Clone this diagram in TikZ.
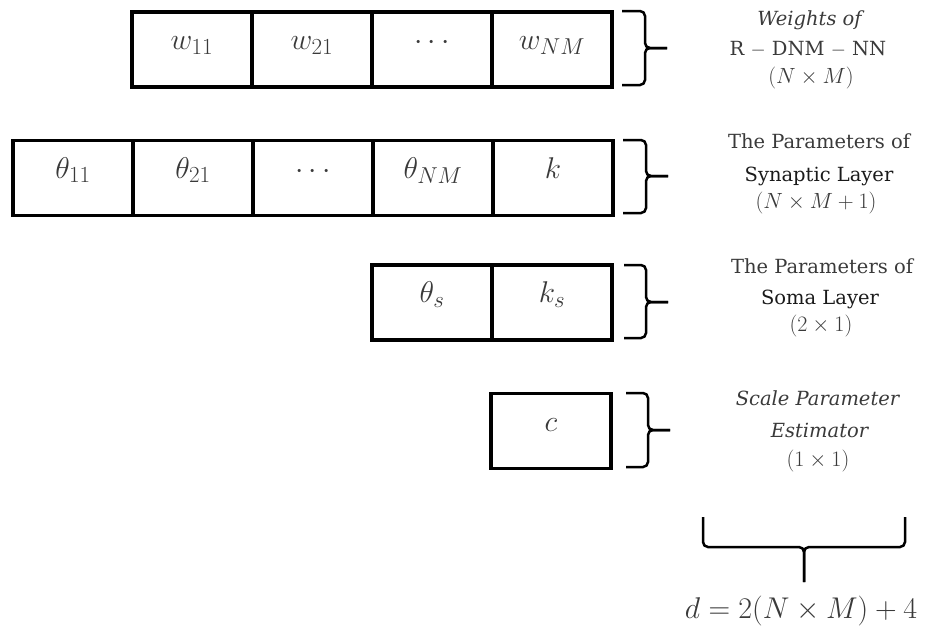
\RequirePackage{fix-cm}
\documentclass[tikz,border=0pt]{standalone}
\usepackage{fontspec}
\setmainfont{DejaVu Serif}
\newcommand\cellsub[1]{_{\mbox{\fontsize{23}{26}\selectfont$#1$}}}
\usetikzlibrary{calc}
\definecolor{txtgray}{HTML}{3A3A3A}
\definecolor{txtdark}{HTML}{1A1A1A}
\tikzset{
  cell/.style={draw=black, line width=3.2pt, minimum width=120pt, minimum height=75pt,
    inner sep=0pt, text height=12pt, text depth=12pt, text=txtgray,
    font=\fontsize{30}{33}\selectfont},
  brc/.style={draw=black, line width=2.5pt, rounded corners=5pt},
  lab/.style={anchor=base, text=txtgray, inner sep=0pt, font=\fontsize{19.5}{23}\selectfont},
  labm/.style={lab, font=\fontsize{22}{26}\selectfont},
  labdark/.style={lab, text=txtdark},
}
\begin{document}
\begin{tikzpicture}[x=1pt, y=-1pt]
\useasboundingbox (0,0) rectangle (935,627);

% Row 1: weights
\node[cell] (w11) at (192,49.5) {$w\cellsub{11}$};
\node[cell] (w21) at (312,49.5) {$w\cellsub{21}$};
\node[cell] (wdots) at (432,49.5) {$\cdots$};
\node[cell] (wNM) at (552,49.5) {$w\cellsub{NM}$};

% Row 2: synaptic layer
\node[cell] (t11) at (73,178) {$\theta\cellsub{11}$};
\node[cell] (t21) at (193,178) {$\theta\cellsub{21}$};
\node[cell] (tdots) at (313,178) {$\cdots$};
\node[cell] (tNM) at (433,178) {$\theta\cellsub{NM}$};
\node[cell] (k) at (553,178) {$k$};

% Row 3: soma layer
\node[cell] (ts) at (432,302.5) {$\theta\cellsub{s}$};
\node[cell] (ks) at (552,302.5) {$k\cellsub{s}$};

% Row 4: scale parameter
\node[cell] (c) at (551,431) {$c$};

% Braces
\draw[brc] (622,11) -- (645,11) -- (645,48) -- (667,48);
\draw[brc] (622,85) -- (645,85) -- (645,48) -- (667,48);

\draw[brc] (623,140) -- (646,140) -- (646,176) -- (668,176);
\draw[brc] (623,213) -- (646,213) -- (646,176) -- (668,176);

\draw[brc] (624,265) -- (646,265) -- (646,302) -- (668,302);
\draw[brc] (624,338) -- (646,338) -- (646,302) -- (668,302);

\draw[brc] (626,393) -- (648,393) -- (648,430) -- (670,430);
\draw[brc] (626,467) -- (648,467) -- (648,430) -- (670,430);

\draw[brc] (703,517) -- (703,547) -- (804,547) -- (804,582);
\draw[brc] (905,517) -- (905,547) -- (804,547) -- (804,582);

% Labels
\node[lab] (l1a) at (811,25) {\textit{Weights of}};
\node[lab] (l1b) at (808,55) {R $-$ DNM $-$ NN};
\node[labm] (l1c) at (811,83) {$(N\times M)$};

\node[lab] (l2a) at (819,148) {The Parameters of};
\node[labdark] (l2b) at (819,181) {Synaptic Layer};
\node[labm] (l2c) at (816,208) {$(N\times M+1)$};

\node[lab] (l3a) at (822,273) {The Parameters of};
\node[labdark] (l3b) at (820,304) {Soma Layer};
\node[labm] (l3c) at (821,331) {$(2\times 1)$};

\node[lab] (l4a) at (818,405) {\textit{Scale Parameter}};
\node[lab] (l4b) at (820,437) {\textit{Estimator}};
\node[labm] (l4c) at (818,466) {$(1\times 1)$};

\node[lab, font=\fontsize{30}{34}\selectfont] (dsum) at (801,618) {$d=2(N\times M)+4$};
\end{tikzpicture}
\end{document}
